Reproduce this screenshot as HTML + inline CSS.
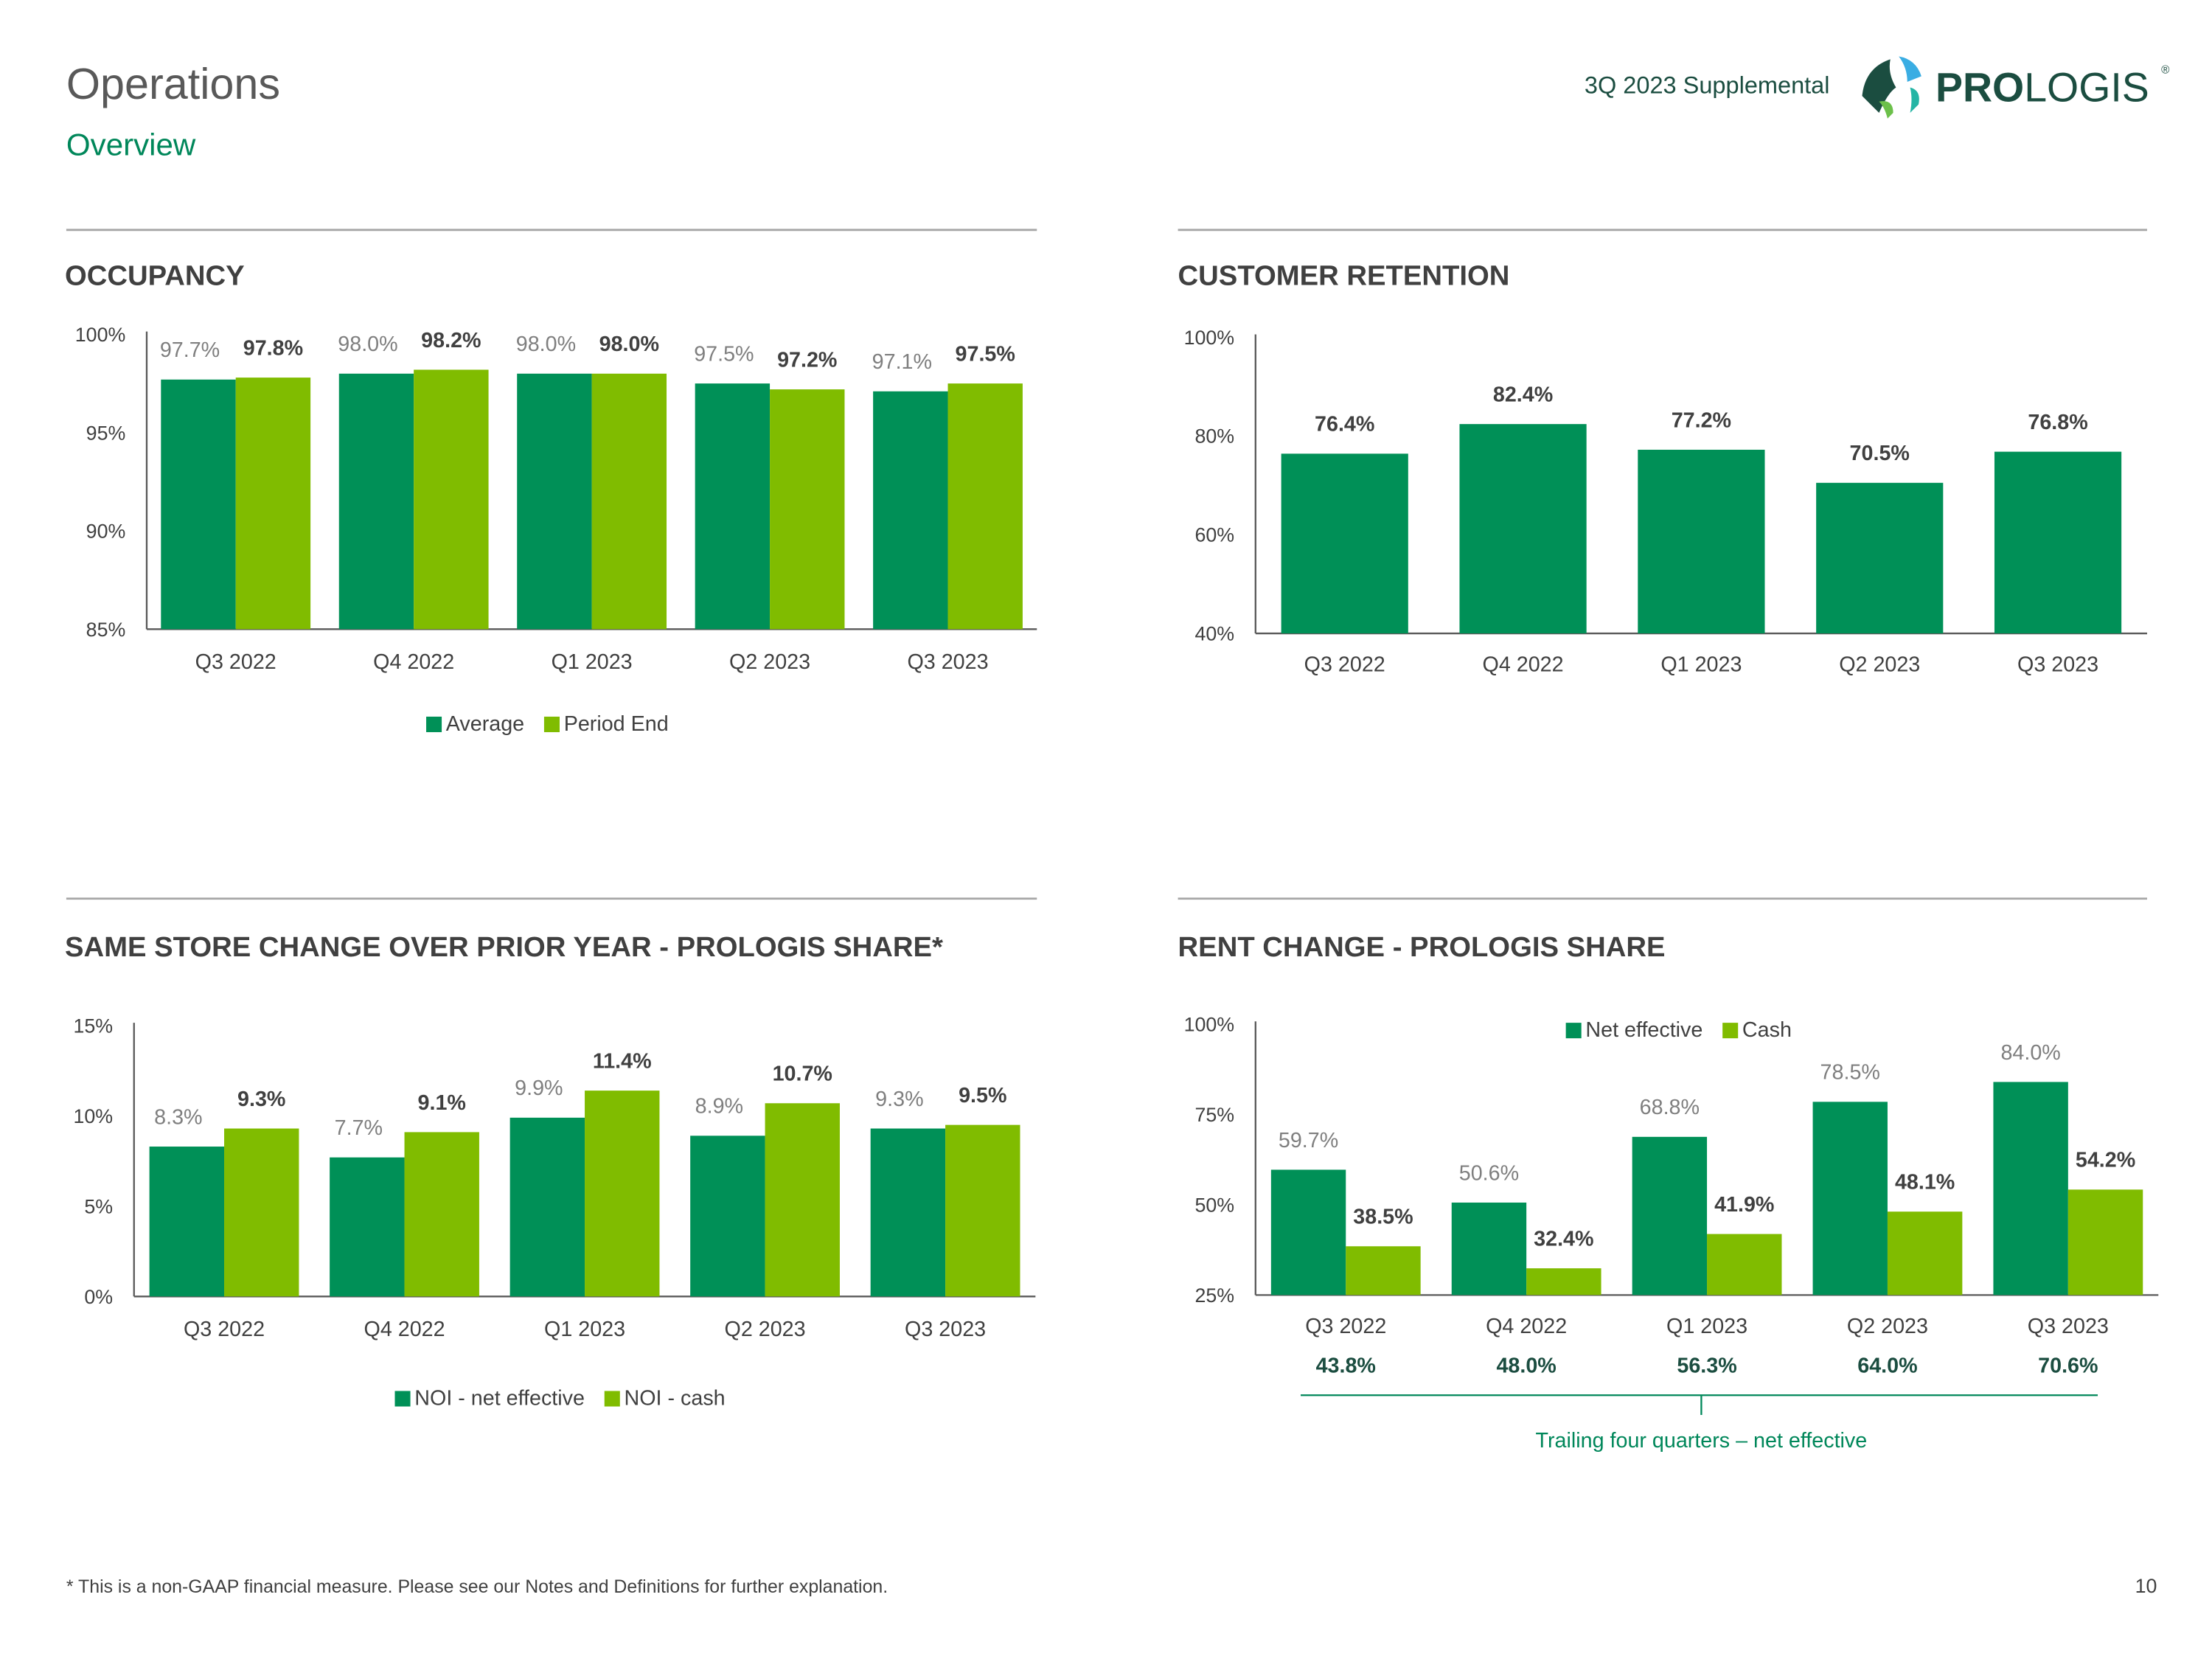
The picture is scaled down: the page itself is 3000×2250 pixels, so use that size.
<!DOCTYPE html>
<html><head><meta charset="utf-8">
<style>
html,body{margin:0;padding:0;background:#fff;}
svg{display:block;font-family:"Liberation Sans",sans-serif;}
</style></head>
<body>
<svg id="page" width="3000" height="2250" viewBox="0 0 1568 1176" xmlns="http://www.w3.org/2000/svg">
<rect width="1568" height="1176" fill="#fff"/>
<text x="47" y="70" font-size="31" fill="#595959">Operations</text>
<text x="47" y="110" font-size="22" fill="#00875a">Overview</text>
<text x="1297" y="66" font-size="17" fill="#1b4d40" text-anchor="end">3Q 2023 Supplemental</text>
<g>
<path d="M1340 42 q-18 6 -20 26 l12 12 q6 -14 12 -18 q-6 -10 -4 -20z" fill="#1b4d40"/>
<path d="M1346 40 q12 2 16 14 l-10 4 q0 -10 -6 -18z" fill="#3aade3"/>
<path d="M1354 62 q8 2 6 12 l-6 6 q2 -10 0 -18z" fill="#25b5a5"/>
<path d="M1332 72 q10 -2 10 8 l-4 4 q-2 -8 -6 -12z" fill="#6cc04a"/>
<text x="1372" y="72" font-size="29" fill="#1b4d40"><tspan font-weight="bold">PRO</tspan>LOGIS</text>
<text x="1532" y="52" font-size="8" fill="#1b4d40">®</text>
</g>
<g stroke="#a6a6a6" stroke-width="1.5">
<line x1="47" y1="163" x2="735" y2="163"/><line x1="835" y1="163" x2="1522" y2="163"/>
<line x1="47" y1="637" x2="735" y2="637"/><line x1="835" y1="637" x2="1522" y2="637"/>
</g>
<g font-size="20" font-weight="bold" fill="#404040">
<text x="46" y="202">OCCUPANCY</text>
<text x="835" y="202">CUSTOMER RETENTION</text>
<text x="46" y="678">SAME STORE CHANGE OVER PRIOR YEAR - PROLOGIS SHARE*</text>
<text x="835" y="678">RENT CHANGE - PROLOGIS SHARE</text>
</g>
<g id="charts"></g>
<text x="47" y="1129" font-size="13" fill="#404040">* This is a non-GAAP financial measure. Please see our Notes and Definitions for further explanation.</text>
<text x="1529" y="1129" font-size="14" fill="#404040" text-anchor="end">10</text>
</svg>
<script>
const categories=["Q3 2022","Q4 2022","Q1 2023","Q2 2023","Q3 2023"];
const occAverage=[97.7,98.0,98.0,97.5,97.1];
const occPeriodEnd=[97.8,98.2,98.0,97.2,97.5];
const occTicks=[85,90,95,100];
const retention=[76.4,82.4,77.2,70.5,76.8];
const retTicks=[40,60,80,100];
const ssNet=[8.3,7.7,9.9,8.9,9.3];
const ssCash=[9.3,9.1,11.4,10.7,9.5];
const ssTicks=[0,5,10,15];
const rentNet=[59.7,50.6,68.8,78.5,84.0];
const rentCash=[38.5,32.4,41.9,48.1,54.2];
const rentTicks=[25,50,75,100];
const trailing=[43.8,48.0,56.3,64.0,70.6];

const DG="#009057",LG="#80bc00",NS="http://www.w3.org/2000/svg";
const root=document.getElementById('charts');
function el(tag,attrs,parent,txt){const e=document.createElementNS(NS,tag);for(const k in attrs)e.setAttribute(k,attrs[k]);if(txt!==undefined)e.textContent=txt;(parent||root).appendChild(e);return e;}

function chart(o){
  const g=el('g',{});
  
  
  const y=v=>o.y0-(v-o.vmin)/(o.vmax-o.vmin)*(o.y0-o.y1);
  el('line',{x1:o.ax,y1:o.y1-2,x2:o.ax,y2:o.y0,stroke:'#595959','stroke-width':1.2},g);
  el('line',{x1:o.ax,y1:o.y0,x2:o.xe,y2:o.y0,stroke:'#595959','stroke-width':1.2},g);
  o.ticks.forEach(t=>{const tx=el('text',{x:o.ax-15,y:y(t)+5,'font-size':14,fill:'#404040','text-anchor':'end'},g,t+'%');
    
    });
  const step=(o.xe-o.ax)/categories.length;
  categories.forEach((c,i)=>{
    const cx=o.ax+step*(i+0.5);
    const lb=el('text',{x:cx,y:o.y0+o.lblOff,'font-size':15,fill:'#404040','text-anchor':'middle'},g,c);
    
    
    o.series.forEach((s,si)=>{
      const n=o.series.length,w=o.bw;
      const x=n===1?cx-w/2:cx-w+si*w;
      const v=s.vals[i];
      const r=el('rect',{x:x,y:y(v),width:w,height:o.y0-y(v),fill:s.color},g);
      
      
      const lx=n===1?cx:(si===0?x+w/2-(o.shiftL||0):x+w/2);
      const ly=y(v)-(si===0?(o.offL||10):(o.offR||10));
      const t=el('text',{x:lx,y:ly,'font-size':15,'text-anchor':'middle',fill:s.lab,'font-weight':s.bold?'bold':'normal'},g,v.toFixed(1)+'%');
      
      
    });
  });
  return {g,y,step};
}
function legend(items,cx,cy){
  const g=el('g',{});
  
  
  let x=0;
  items.forEach(it=>{
    const r=el('rect',{x:x,y:cy-10,width:11,height:11,fill:it[1]},g);
    
    
    const t=el('text',{x:x+14,y:cy,'font-size':15,fill:'#404040'},g,it[0]);
    
    
    x+=14+t.getComputedTextLength()+14;
  });
  const tot=x-14;
  g.setAttribute('transform','translate('+(cx-tot/2)+',0)');
}
chart({name:'occupancy-chart',ax:104,xe:735,y0:446,y1:237,vmin:85,vmax:100,ticks:occTicks,bw:53,lblOff:28,
  series:[{key:'average',vals:occAverage,color:DG,lab:'#7f7f7f'},{key:'period-end',vals:occPeriodEnd,color:LG,lab:'#404040',bold:true}],offL:16,offR:16,shiftL:6});
legend([["Average",DG],["Period End",LG]],388,518);
chart({name:'retention-chart',ax:890,xe:1522,y0:449,y1:239,vmin:40,vmax:100,ticks:retTicks,bw:90,lblOff:27,
  series:[{key:'retention',vals:retention,color:DG,lab:'#404040',bold:true}],offL:16});
chart({name:'same-store-chart',ax:95,xe:734,y0:919,y1:727,vmin:0,vmax:15,ticks:ssTicks,bw:53,lblOff:28,
  series:[{key:'noi-net',vals:ssNet,color:DG,lab:'#7f7f7f'},{key:'noi-cash',vals:ssCash,color:LG,lab:'#404040',bold:true}],offL:16,offR:16,shiftL:6});
legend([["NOI - net effective",DG],["NOI - cash",LG]],397,996);
const rc=chart({name:'rent-change-chart',ax:890,xe:1530,y0:918,y1:726,vmin:25,vmax:100,ticks:rentTicks,bw:53,lblOff:27,
  series:[{key:'net-effective',vals:rentNet,color:DG,lab:'#7f7f7f'},{key:'cash',vals:rentCash,color:LG,lab:'#404040',bold:true}],offL:16,offR:16,shiftL:0});
legend([["Net effective",DG],["Cash",LG]],1190,735);
trailing.forEach((v,i)=>{
  const cx=890+rc.step*(i+0.5);
  const t=el('text',{x:cx,y:973,'font-size':15,'font-weight':'bold',fill:'#1b4d40','text-anchor':'middle'},root,v.toFixed(1)+'%');
  
  
});
const br=el('path',{d:'M922 989 H1487 M1206 989 V1003',stroke:'#00875a','stroke-width':1.2,fill:'none'});


const tt=el('text',{x:1206,y:1026,'font-size':15,fill:'#00875a','text-anchor':'middle'},root,'Trailing four quarters – net effective');


</script>
</body></html>
